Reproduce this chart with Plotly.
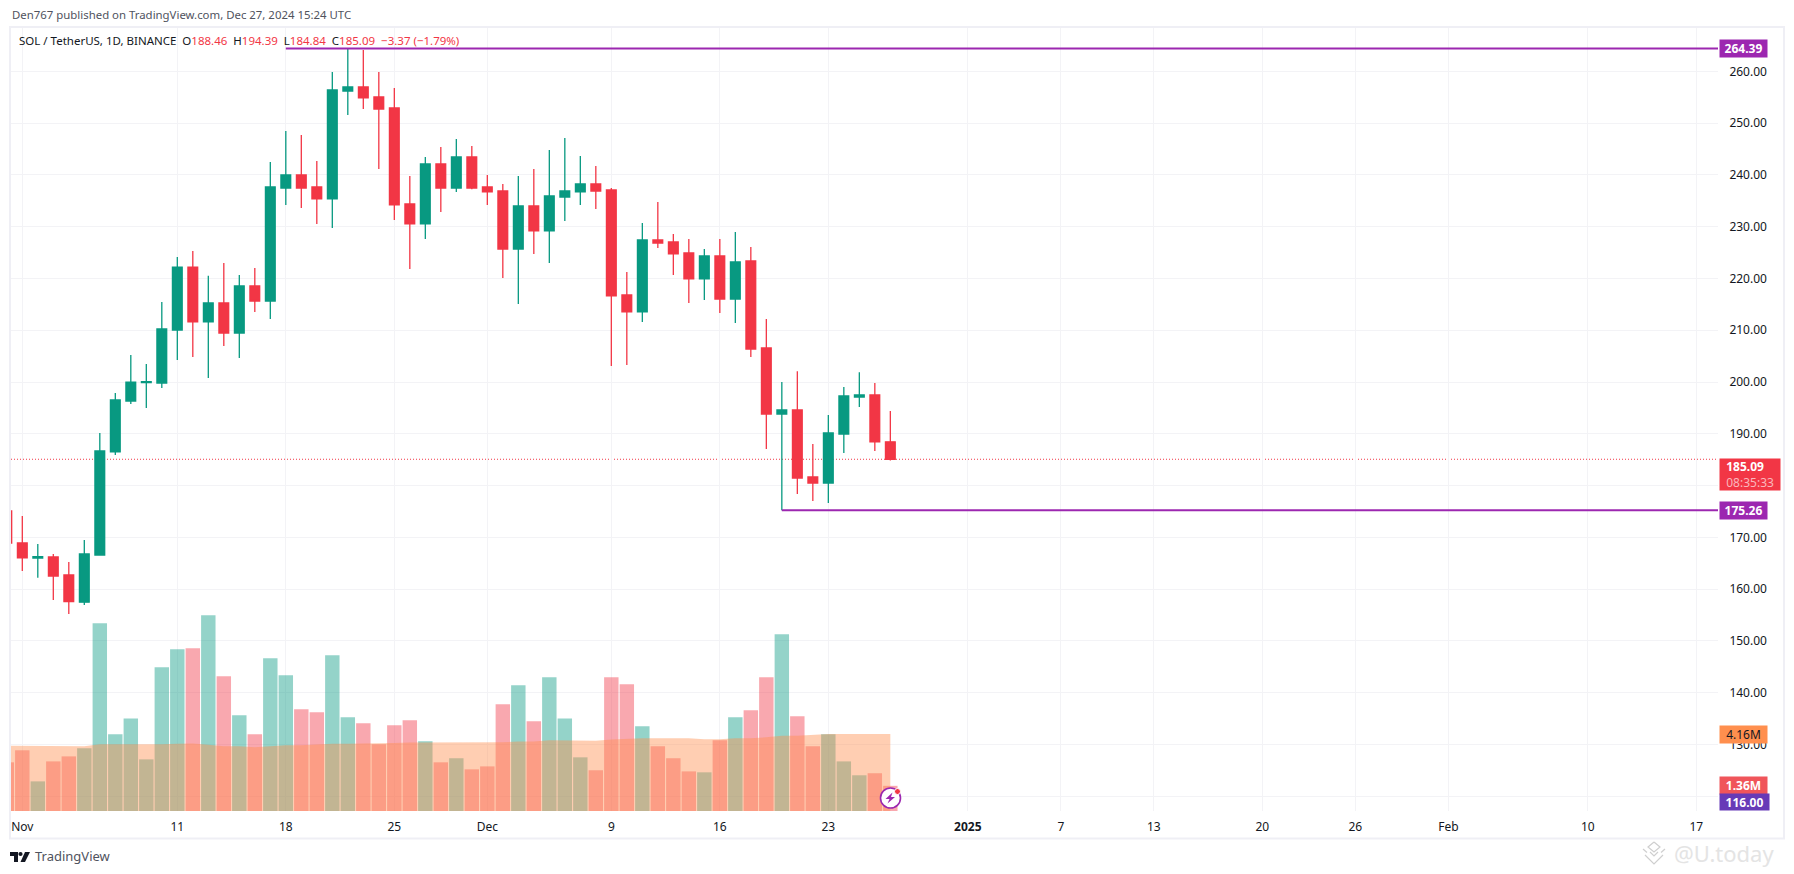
import pandas as pd
import plotly.graph_objects as go

# daily candles, Oct 31 2024 - Dec 27 2024
dates = pd.date_range("2024-10-31", "2024-12-27", freq="D")

opens = [175.1, 168.92, 166.0, 166.22, 162.74, 157.5, 166.6, 186.5, 196.34, 199.9, 199.8,
         210.05, 222.2, 211.6, 215.26, 209.47, 218.55, 215.65, 237.47, 239.98, 237.66, 235.35,
         256.2, 256.97, 255.04, 252.92, 234.38, 230.52, 242.1, 237.47, 243.46,
         237.66, 236.89, 225.69, 234.0, 229.17, 235.73, 236.7, 238.24, 237.08, 216.81, 213.53,
         227.43, 227.04, 224.92, 219.9, 224.34, 216.03, 223.37, 206.57, 193.83, 194.6, 181.66,
         180.5, 189.97, 197.1, 197.5, 188.46]
highs = [175.6, 174.14, 168.73, 166.8, 165.25, 169.5, 190.16, 197.9, 205.23, 203.5, 215.46,
         224.15, 225.3, 220.5, 222.99, 220.67, 222.0, 242.49, 248.47, 247.7, 242.68, 259.87,
         264.39, 264.1, 259.87, 256.78, 239.79, 243.46, 245.39, 246.93, 245.58,
         239.98, 238.24, 239.79, 241.14, 244.8, 247.12, 243.65, 241.72, 237.47, 221.25, 230.71,
         234.77, 228.59, 227.62, 225.69, 227.62, 228.97, 226.08, 212.17, 200.0, 202.1, 188.04,
         193.64, 199.05, 201.9, 199.82, 194.39]
lows = [168.2, 163.5, 162.2, 157.9, 155.2, 156.95, 166.6, 185.92, 195.76, 195.0, 198.85,
        204.26, 204.84, 200.8, 206.96, 204.65, 213.5, 212.17, 234.19, 233.6, 230.52, 229.75,
        251.57, 252.72, 241.14, 231.29, 221.83, 227.62, 232.84, 236.7, 237.2,
        234.19, 220.09, 215.07, 224.73, 222.99, 231.1, 234.19, 233.41, 203.1, 203.29, 211.6,
        225.88, 220.67, 215.26, 215.84, 213.33, 211.4, 204.84, 187.07, 175.26, 178.38, 177.03,
        176.65, 186.3, 195.18, 186.69, 184.84]
closes = [168.92, 166.03, 166.3, 162.55, 157.6, 166.8, 186.68, 196.53, 200.0, 200.05, 210.25,
          222.2, 211.6, 215.26, 209.47, 218.55, 215.65, 237.66, 239.98, 237.47, 235.35, 256.39,
          256.97, 254.85, 252.72, 234.19, 230.52, 242.1, 237.47, 243.46, 237.47,
          236.7, 225.69, 234.0, 229.17, 235.93, 236.89, 238.24, 236.89, 216.62, 213.53, 227.43,
          226.85, 224.73, 219.9, 224.34, 216.03, 223.18, 206.38, 193.83, 194.6, 181.47, 180.5,
          190.16, 197.31, 197.5, 188.43, 185.09]

# volume in millions and its moving average
volumes = [2.63, 3.28, 1.60, 2.68, 2.95, 3.39, 10.14, 4.14, 5.0, 2.79, 7.77,
           8.74, 8.79, 10.58, 7.28, 5.17, 4.14, 8.25, 7.33, 5.5, 5.33, 8.41,
           5.06, 4.74, 3.6, 4.63, 4.9, 3.77, 2.63, 2.85, 2.25,
           2.41, 5.77, 6.79, 4.85, 7.23, 5.0, 2.9, 2.2, 7.23, 6.85, 4.58,
           3.5, 2.85, 2.14, 2.09, 3.82, 5.06, 5.44, 7.23, 9.55, 5.12, 3.5,
           4.14, 2.68, 1.93, 2.04, 1.36]
volume_ma = [3.53, 3.53, 3.5, 3.5, 3.5, 3.5, 3.6, 3.6, 3.6, 3.58, 3.6,
             3.63, 3.65, 3.58, 3.5, 3.5, 3.45, 3.5, 3.55, 3.55, 3.6, 3.63,
             3.63, 3.63, 3.63, 3.67, 3.7, 3.7, 3.68, 3.68, 3.7,
             3.7, 3.72, 3.75, 3.75, 3.82, 3.82, 3.8, 3.8, 3.86, 3.9, 3.93,
             3.93, 3.93, 3.93, 3.87, 3.87, 3.93, 3.93, 3.98, 4.07, 4.07, 4.12,
             4.16, 4.16, 4.16, 4.16, 4.16]

tick_dates = ["2024-11-01", "2024-11-11", "2024-11-18", "2024-11-25", "2024-12-01", "2024-12-09",
              "2024-12-16", "2024-12-23", "2025-01-01", "2025-01-07", "2025-01-13", "2025-01-20",
              "2025-01-26", "2025-02-01", "2025-02-10", "2025-02-17"]
tick_labels = ["Nov", "11", "18", "25", "Dec", "9", "16", "23", "<b>2025</b>", "7", "13", "20",
               "26", "Feb", "10", "17"]
price_ticks = [120, 130, 140, 150, 160, 170, 180, 190, 200, 210, 220, 230, 240, 250, 260]

last_price = 185.09
top_level = 264.39
top_level_start = "2024-11-18"
bottom_level = 175.26
bottom_level_start = "2024-12-20"
x_end = "2025-02-18 09:30"
x_start = "2024-10-31 06:30"

W, H = 1794, 874
L, R, T, B = 11, 1718, 28, 811
GREEN = "#089981"
RED = "#F23645"
PURPLE = "#9C27B0"
FONT = "Noto Sans"


def px(x):
    return (x - L) / (R - L)


def py(y):
    return (B - y) / (B - T)


def path(points, close=True):
    s = "M " + " L ".join(f"{px(x)},{py(y)}" for x, y in points)
    return s + " Z" if close else s


def circle(cx, cy, r, **kw):
    return dict(type="circle", xref="paper", yref="paper", x0=px(cx - r), x1=px(cx + r),
                y0=py(cy + r), y1=py(cy - r), layer="above", **kw)


fig = go.Figure()

bar_colors = ["rgba(8,153,129,0.43)" if c >= o else "rgba(242,54,69,0.43)" for o, c in zip(opens, closes)]
fig.add_trace(go.Bar(x=dates, y=volumes, marker_color=bar_colors, marker_line_width=0, yaxis="y2"))
fig.add_trace(go.Scatter(x=dates, y=volume_ma, mode="lines", line=dict(width=0, color="#FF8F4E"),
                         fill="tozeroy", fillcolor="rgba(255,143,78,0.435)", yaxis="y2"))

fig.add_trace(go.Candlestick(x=dates, open=opens, high=highs, low=lows, close=closes,
                             increasing=dict(line=dict(color=GREEN, width=1.3), fillcolor=GREEN),
                             decreasing=dict(line=dict(color=RED, width=1.3), fillcolor=RED),
                             whiskerwidth=0))

fig.add_trace(go.Scatter(x=[top_level_start, x_end], y=[top_level, top_level], mode="lines",
                         line=dict(color=PURPLE, width=2)))
fig.add_trace(go.Scatter(x=[bottom_level_start, x_end], y=[bottom_level, bottom_level], mode="lines",
                         line=dict(color=PURPLE, width=2)))

shapes = [
    # pane frame
    dict(type="rect", xref="paper", yref="paper", x0=px(10), x1=px(1784), y0=py(838.5), y1=py(27),
         line=dict(color="#EFEFF5", width=2), layer="below"),
    dict(type="line", xref="paper", x0=0, x1=1, yref="y", y0=last_price, y1=last_price,
         line=dict(color=RED, width=1, dash="1px,2px"), layer="below"),
    # tv logo
    dict(type="path", xref="paper", yref="paper", fillcolor="#131722", line_width=0, layer="above",
         path=path([(10, 852), (18, 852), (18, 862), (14, 862), (14, 856), (10, 856)])),
    dict(type="path", xref="paper", yref="paper", fillcolor="#131722", line_width=0, layer="above",
         path=path([(25, 852), (30, 852), (25, 862), (20.5, 862)])),
    circle(20.5, 854, 2.1, fillcolor="#131722", line_width=0),
    # alert icon on the last bar
    circle(890.5, 798, 10, fillcolor="white", line=dict(color=PURPLE, width=1.6)),
    dict(type="path", xref="paper", yref="paper", fillcolor=PURPLE, line_width=0, layer="above",
         path=path([(892.5, 792.5), (885.5, 799), (889.5, 799), (887.5, 803.5), (895, 797), (891, 797)])),
    circle(897.5, 791.5, 3, fillcolor=RED, line=dict(color="white", width=1)),
]
# watermark chevrons
for pts in ([(1654, 842), (1648, 847), (1654, 852), (1660, 847), (1654, 842)],
            [(1643, 849), (1647, 852.5)], [(1665, 849), (1661, 852.5)],
            [(1645, 855), (1654, 864), (1663, 855)], [(1650, 852), (1654, 856), (1658, 852)]):
    shapes.append(dict(type="path", xref="paper", yref="paper", layer="above",
                       line=dict(color="#CFCFCF", width=1.2), path=path(pts, close=False)))

legend_text = ("SOL / TetherUS, 1D, BINANCE&nbsp;&nbsp;"
               f"O<span style='color:{RED}'>188.46</span>&nbsp;&nbsp;"
               f"H<span style='color:{RED}'>194.39</span>&nbsp;&nbsp;"
               f"L<span style='color:{RED}'>184.84</span>&nbsp;&nbsp;"
               f"C<span style='color:{RED}'>185.09</span>&nbsp;&nbsp;"
               f"<span style='color:{RED}'>−3.37 (−1.79%)</span>")


def page_text(x, y, text, size=12, color="#50535E", **kw):
    return dict(xref="paper", yref="paper", x=px(x), y=py(y), text=text, showarrow=False,
                xanchor="left", yanchor="middle", font=dict(family=FONT, size=size, color=color), **kw)


def axis_label(text, value, bg, yref="y", width=47, height=17, color="white", bold=True, align="center"):
    label = f"<b>{text}</b>" if bold else text
    return dict(xref="paper", x=1, xshift=1, yref=yref, y=value, text=label, showarrow=False,
                xanchor="left", yanchor="middle", align=align, width=width, height=height,
                bgcolor=bg, borderpad=0, font=dict(family=FONT, size=12, color=color))


annotations = [
    page_text(10, 15, "Den767 published on TradingView.com, Dec 27, 2024 15:24 UTC", size=11.4),
    page_text(17, 41, legend_text, size=11.5, color="#131722"),
    page_text(33, 856.5, "TradingView", size=13),
    page_text(1672, 853, "@U.today", size=22, color="#E4E4E4"),
    axis_label(f"{top_level}", top_level, PURPLE),
    axis_label(f"{bottom_level}", bottom_level, PURPLE),
    axis_label(f"&nbsp;&nbsp;<b>{last_price}</b><br>&nbsp;&nbsp;<span style='color:#FAB6BC'>08:35:33</span>",
               182.2, RED, width=60, height=31, bold=False, align="left"),
    axis_label("4.16M", 4.16, "#FF8F4E", yref="y2", color="#131722", bold=False),
    axis_label("1.36M", 1.36, "#F0555A", yref="y2"),
    dict(xref="paper", x=1, xshift=1, yref="paper", y=0, text="<b>116.00</b>", showarrow=False,
         xanchor="left", yanchor="bottom", align="center", width=49, height=16, bgcolor="#673AB7",
         borderpad=0, font=dict(family=FONT, size=12, color="white")),
]

fig.update_layout(
    width=W, height=H,
    margin=dict(l=L, r=W - R, t=T, b=H - B, pad=0),
    paper_bgcolor="white", plot_bgcolor="white",
    showlegend=False,
    bargap=0.07,
    boxgap=0.37,
    boxgroupgap=0,
    font=dict(family=FONT, size=12, color="#131722"),
    xaxis=dict(type="date", range=[x_start, x_end], tickmode="array", tickvals=tick_dates,
               ticktext=tick_labels, showgrid=True, gridcolor="#F3F3F6", gridwidth=1,
               rangeslider=dict(visible=False), zeroline=False, showline=False,
               ticks="outside", ticklen=5, tickcolor="rgba(0,0,0,0)", tickangle=0),
    yaxis=dict(range=[117.17, 268.36], side="right", tickmode="array", tickvals=price_ticks,
               ticktext=[f"{v:.2f}" for v in price_ticks], showgrid=True, gridcolor="#F3F3F6",
               gridwidth=1, zeroline=False, showline=False,
               ticks="outside", ticklen=8, tickcolor="rgba(0,0,0,0)"),
    yaxis2=dict(range=[0, 42.3], overlaying="y", side="left", visible=False, showgrid=False,
                zeroline=False),
    shapes=shapes,
    annotations=annotations,
)

fig.write_html("out.html", config=dict(displayModeBar=False),
               post_script="document.body.style.margin='0';document.body.style.overflow='hidden';")
